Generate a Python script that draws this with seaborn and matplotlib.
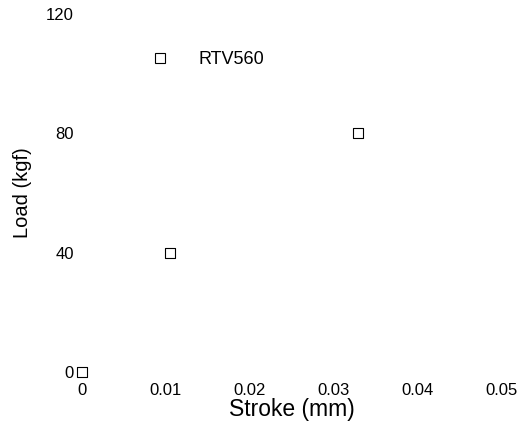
import matplotlib
matplotlib.use("Agg")
import matplotlib.pyplot as plt
import seaborn as sns
import pandas as pd

# values
stroke_mm = [0.0, 0.0105, 0.0329]
load_kgf = [0, 40, 80]
series = "RTV560"
x_ticks = [0, 0.01, 0.02, 0.03, 0.04, 0.05]
x_tick_labels = ["0", "0.01", "0.02", "0.03", "0.04", "0.05"]
y_ticks = [0, 40, 80, 120]

df = pd.DataFrame({"stroke": stroke_mm, "load": load_kgf})

sns.set_style("white")
plt.rcParams["font.family"] = ["Liberation Sans", "DejaVu Sans"]
for key in ["text.color", "axes.labelcolor", "xtick.color", "ytick.color"]:
    plt.rcParams[key] = "black"

fig = plt.figure(figsize=(5.29, 4.23), dpi=100)
ax = fig.add_axes([82 / 529, 51 / 423, 419 / 529, 358 / 423])

sns.scatterplot(data=df, x="stroke", y="load", marker="s", s=55,
                color="black", linewidth=0.8, ax=ax, legend=False,
                clip_on=False)
ax.collections[0].set_facecolor("none")
ax.collections[0].set_edgecolor("black")

ax.set_xlim(0, 0.05)
ax.set_ylim(0, 120)
ax.set_xticks(x_ticks)
ax.set_xticklabels(x_tick_labels)
ax.set_yticks(y_ticks)
ax.tick_params(axis="both", length=0, labelsize=12)
ax.tick_params(axis="x", pad=8)
ax.tick_params(axis="y", pad=6)
for s in ax.spines.values():
    s.set_visible(False)

ax.set_xlabel("Stroke (mm)", fontsize=16.5, labelpad=0)
ax.set_ylabel("Load (kgf)", fontsize=14.5, labelpad=10)

handle = plt.Line2D([], [], marker="s", linestyle="none", markersize=7,
                    markerfacecolor="none", markeredgecolor="black",
                    markeredgewidth=0.8)
ax.legend([handle], [series], frameon=False, fontsize=13,
          loc="center left", bbox_to_anchor=(126 / 529, 1 - 60 / 423),
          bbox_transform=fig.transFigure, handletextpad=1.1)

fig.savefig("out.png", dpi=100)
